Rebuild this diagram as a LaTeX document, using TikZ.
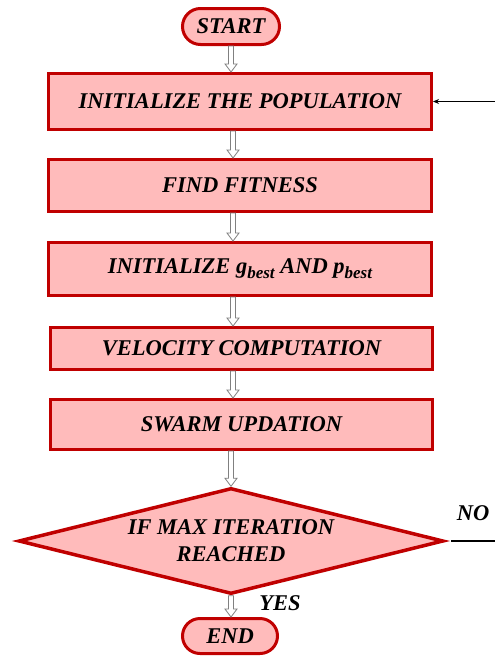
\documentclass[tikz,border=0pt]{standalone}
\usepackage{fontspec}
\setmainfont{Liberation Serif}
\usetikzlibrary{positioning,calc,arrows.meta,shapes.geometric,shapes.misc}
\definecolor{boxred}{RGB}{192,0,0}
\definecolor{boxpink}{RGB}{255,187,187}
\tikzset{
every node/.style={font=\fontsize{22.5}{27}\selectfont\bfseries\itshape},
terminal/.style={rounded rectangle, draw=boxred, fill=boxpink, line width=3pt, inner sep=0pt},
process/.style={rectangle, draw=boxred, fill=boxpink, line width=3pt, inner sep=0pt},
decision/.style={diamond, draw=boxred, fill=boxpink, line width=3.5pt, inner sep=0pt, align=center},
flow/.style={draw=gray, fill=white, line width=0.8pt},
loopline/.style={line width=1.5pt}
}
\newcommand{\sub}[1]{\raisebox{-5pt}{\fontsize{17}{17}\selectfont #1}}
\newcommand{\flowarrow}[2]{%
  \draw[flow] let \p1=(#1), \p2=(#2) in
    (\x1-2.5pt,\y1) -- (\x1-2.5pt,\y2+8pt) -- (\x1-6pt,\y2+8pt) -- (\x1,\y2)
    -- (\x1+6pt,\y2+8pt) -- (\x1+2.5pt,\y2+8pt) -- (\x1+2.5pt,\y1) -- cycle;}
\begin{document}
\begin{tikzpicture}[x=1pt,y=-1pt]
  \useasboundingbox (0,0) rectangle (495,656);
  \coordinate (axis) at (233,0);
  \node[terminal, minimum width=97pt, minimum height=36pt] (start) at (231,26.5) {START};
  \node[process, minimum width=383pt, minimum height=56pt] (init) at (240,101.5) {INITIALIZE THE POPULATION};
  \node[process, minimum width=383pt, minimum height=52pt] (fitness) at (240,185.5) {FIND FITNESS};
  \node[process, minimum width=383pt, minimum height=53pt] (best) at (240,269) {INITIALIZE g\sub{best} AND p\sub{best}};
  \node[process, minimum width=382pt, minimum height=42pt] (velocity) at (241.5,348.5) {VELOCITY COMPUTATION};
  \node[process, minimum width=382pt, minimum height=50pt] (swarm) at (241.5,424.5) {SWARM UPDATION};
  \node[decision, shape aspect=4.03, minimum width=425pt, minimum height=106pt] (check) at (231,541) {IF MAX ITERATION\\REACHED};
  \node[terminal, minimum width=95pt, minimum height=35pt] (end) at (230,636) {END};
  \node (yes) at (280,603) {YES};
  \node (no) at (473,513) {NO};
  \coordinate (loopin) at (495,101.5);
  \coordinate (loopout) at (495,541);

  \flowarrow{start.south}{init.north -| start.south}
  \flowarrow{init.south -| axis}{fitness.north -| axis}
  \flowarrow{fitness.south -| axis}{best.north -| axis}
  \flowarrow{best.south -| axis}{velocity.north -| axis}
  \flowarrow{velocity.south -| axis}{swarm.north -| axis}
  \flowarrow{swarm.south -| check.north}{check.north}
  \flowarrow{check.south}{end.north -| check.south}
  \draw[loopline, -{Stealth[length=6pt,width=5pt]}] (loopin) -- (init.east);
  \draw[loopline, shorten <=6pt] (check.east) -- (loopout);
\end{tikzpicture}
\end{document}
